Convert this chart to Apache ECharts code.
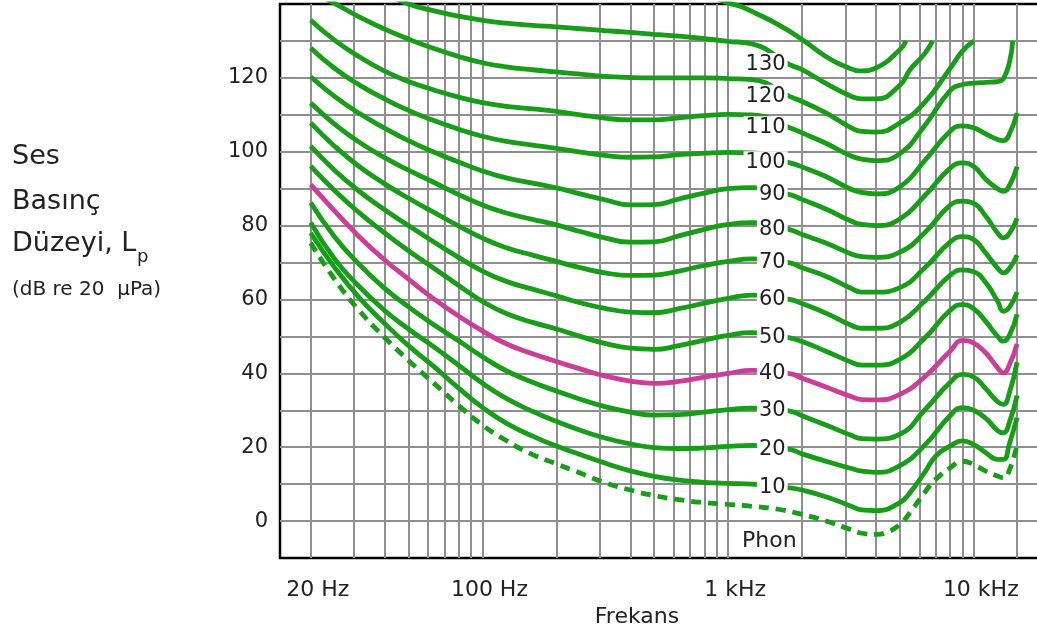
<!DOCTYPE html>
<html>
<head>
<meta charset="utf-8">
<title>Eşit ses yüksekliği eğrileri</title>
<script src="https://cdn.jsdelivr.net/npm/echarts@6/dist/echarts.min.js"></script>
<style>
  html, body { margin: 0; padding: 0; background: #fff; overflow: hidden; }
  #chart { width: 1037px; height: 630px; }
</style>
</head>
<body>
<div id="chart"></div>
<script>
// eksen sınırları
const xMinHz = 15, xMaxHz = 18600;
const yMin = -10, yMax = 140;

// dikey ızgara çizgileri (Hz)
const gridHz = [20, 30, 40, 50, 60, 70, 80, 90, 100, 200, 300, 400, 500, 600, 700, 800, 900,
  1000, 2000, 3000, 4000, 5000, 6000, 7000, 8000, 9000, 10000, 15000];
const xTickHz = [20, 100, 1000, 10000];
const xTickText = ['20 Hz', '100 Hz', '1 kHz', '10 kHz'];
const yTickDb = [0, 20, 40, 60, 80, 100, 120];
// phon etiketinin oturduğu frekans
const labelHz = 1780;

// [frekans Hz, dB] - resimden okunan noktalar
const esik = [[20,75.3],[25,65.5],[31.5,57],[40,49.7],[50,43.5],[63,37.5],[80,31.3],[100,26],[125,21.8],[160,18],[200,15.5],[250,13],[315,10.4],[400,8.4],[500,6.9],[630,5.8],[800,5],[1000,4.5],[1250,4],[1600,3.2],[2000,1.8],[2500,0],[3150,-2.3],[3500,-3.3],[4000,-3.6],[4400,-3.1],[5000,-0.9],[5500,2.3],[6300,7.7],[7000,11.3],[8000,14.4],[9000,16.2],[10000,15.3],[11200,13.5],[12500,12.2],[13200,11.7],[14000,14],[15000,20.7]];
const phon10 = [[20,78],[25,68.7],[31.5,60.5],[40,53.5],[50,47.5],[63,42],[80,36],[100,30.8],[125,26.5],[160,23],[200,20.3],[250,18],[315,15.7],[400,13.6],[500,12.1],[630,11.1],[800,10.5],[1000,10.2],[1250,10],[1780,9],[2000,8.4],[2500,6.6],[3150,4.1],[3500,3],[4000,2.8],[5000,5],[5500,7.7],[6300,13.1],[7000,17.6],[8000,20.3],[9000,21.7],[10000,20.7],[11200,18.5],[12500,16.7],[13200,16.7],[14000,21.2],[15000,28]];
const phon20 = [[20,80.8],[25,71],[31.5,63.5],[40,57],[50,52],[63,47.3],[80,42.2],[100,37.3],[125,33.2],[160,29.7],[200,27],[250,24.6],[315,22.5],[400,20.9],[500,19.9],[630,19.6],[800,19.8],[1000,20.2],[1250,20.5],[1780,19.4],[2000,18.2],[2500,16.2],[3150,14.3],[3500,13.5],[4000,13.2],[5000,15],[6300,20.5],[8000,28.5],[9000,30.7],[10000,30],[11200,27.8],[12500,24.5],[13200,23.9],[14000,27],[15000,34]];
const phon30 = [[20,86.2],[25,77],[31.5,69.5],[40,63],[50,58],[63,53.3],[80,48.8],[100,44.5],[125,40.7],[160,37.6],[200,35.2],[250,33],[315,31],[400,29.5],[500,28.7],[630,28.8],[800,29.5],[1000,30.2],[1250,30.6],[1780,29.8],[2000,28.5],[2500,26],[3150,23.3],[3500,22.3],[4000,22.2],[5000,23.5],[6300,30],[8000,37.5],[9000,39.7],[10000,39],[11200,35.8],[12500,32.3],[13200,31.6],[14000,35],[15000,43]];
const phon40 = [[20,91.1],[25,84],[31.5,77],[40,70.7],[50,65.5],[63,60.3],[80,55.5],[100,51.5],[125,48],[160,45.3],[200,43.2],[250,41.2],[315,39.3],[400,37.9],[500,37.3],[630,37.8],[800,39],[1000,40],[1250,40.8],[1780,39.9],[2000,38.7],[2500,36.3],[3150,33.8],[3500,32.9],[4000,32.8],[5000,34.3],[6300,39],[8000,46],[9000,48.9],[10000,48.2],[11200,45.5],[12500,41.5],[13200,40.1],[14000,42.5],[15000,48]];
const phon50 = [[20,96.1],[25,89.5],[31.5,83.5],[40,78],[50,73.2],[63,68.6],[80,63.8],[100,59.5],[125,56.2],[160,53.8],[200,52],[250,50],[315,48.1],[400,46.8],[500,46.5],[630,47.5],[800,49],[1000,50.3],[1250,51],[1780,49.6],[2000,48.6],[2500,46],[3150,43.1],[3500,42.2],[4000,42.2],[5000,43.8],[6300,49.5],[8000,57],[9000,58.6],[10000,57.5],[11200,54],[12500,50],[13200,48.7],[14000,50.5],[15000,56]];
const phon60 = [[20,101.5],[25,95],[31.5,89.3],[40,84.3],[50,80],[63,75.7],[80,71.4],[100,67.7],[125,64.9],[160,62.8],[200,61],[250,59.1],[315,57.6],[400,56.6],[500,56.4],[630,57.5],[800,59],[1000,60.3],[1250,61.2],[1780,60],[2000,58.9],[2500,56.3],[3150,53.1],[3500,52.2],[4000,52.2],[5000,53.8],[6300,59.5],[8000,66.5],[9000,68],[10000,67.5],[11200,64.5],[12500,59.5],[13200,56.8],[14000,58],[15000,62]];
const phon70 = [[20,107.8],[25,101.5],[31.5,96],[40,91.3],[50,87.4],[63,83.7],[80,79.9],[100,76.6],[125,74],[160,72],[200,70.3],[250,68.6],[315,67.2],[400,66.5],[500,66.6],[630,67.7],[800,69.2],[1000,70.3],[1250,71],[1780,69.9],[2000,68.6],[2500,66.3],[3150,63.1],[3500,62],[4000,62],[5000,63.2],[6300,68.5],[8000,75.5],[9000,77],[10000,76.2],[11200,72.5],[12500,68.5],[13200,67.2],[14000,68.5],[15000,72]];
const phon80 = [[20,113.2],[25,107.5],[31.5,102.6],[40,98.4],[50,95],[63,91.8],[80,88.4],[100,85.6],[125,83.4],[160,81.7],[200,80.2],[250,78.4],[315,76.7],[400,75.5],[500,75.6],[630,77.2],[800,79],[1000,80.3],[1250,80.8],[1780,78.9],[2000,77.6],[2500,75.3],[3150,72.4],[3500,71.6],[4000,71.4],[5000,72.8],[6300,78],[8000,85.5],[9000,86.6],[10000,86],[11200,82.5],[12500,78],[13200,76.7],[14000,78],[15000,82]];
const phon90 = [[20,120.3],[25,115],[31.5,110.4],[40,106.4],[50,103],[63,100],[80,97.2],[100,94.8],[125,92.9],[160,91.5],[200,90.2],[250,88.6],[315,87],[400,85.6],[500,85.7],[630,87.2],[800,88.8],[1000,90],[1250,90.3],[1780,88.4],[2000,87.1],[2500,84.5],[3150,81.3],[3500,80.3],[4000,80],[5000,81.8],[6300,88],[8000,95.5],[9000,97],[10000,96],[11200,92.5],[12500,90],[13200,89.3],[14000,91],[15000,96]];
const phon100 = [[20,128.1],[25,122.6],[31.5,118.1],[40,114.3],[50,111.2],[63,108.5],[80,106.1],[100,104.2],[125,102.8],[160,101.8],[200,100.9],[250,99.9],[315,99],[400,98.5],[500,98.6],[630,99.2],[800,99.6],[1000,99.8],[1250,99.7],[1780,97],[2000,95.9],[2500,93.3],[3150,89.9],[3500,89],[4000,88.6],[5000,90.5],[6300,97.5],[8000,105.5],[9000,107],[10000,106.5],[11200,104.8],[12500,103.3],[13200,103],[14000,105],[15000,110.5]];
const phon110 = [[20,135.6],[25,130.2],[31.5,125.7],[40,121.8],[50,119],[63,116.8],[80,114.8],[100,113.3],[125,112.3],[160,111.6],[200,110.9],[250,110],[315,109.1],[400,108.6],[500,108.6],[630,109.2],[800,109.8],[1000,110.1],[1250,110],[1780,106.5],[2000,105.1],[2500,102.3],[3150,98.9],[3500,98],[4000,97.6],[5000,99.5],[6300,107],[8000,116.5],[9000,118.2],[10000,118.6],[11200,118.8],[12500,119],[13200,119.8],[14000,124.5],[14400,130]];
const phon120 = [[20,143.5],[25,140.2],[31.5,136.5],[40,133.2],[50,130.5],[63,128],[80,125.8],[100,124.1],[125,123],[160,122.2],[200,121.6],[250,121],[315,120.4],[400,120.1],[500,120],[630,120],[800,120],[1000,119.8],[1250,119.5],[1780,115],[2000,113.6],[2500,110.5],[3150,106.6],[3500,105.5],[4000,105.3],[5000,107.8],[6300,113.3],[8000,122.5],[9000,127.3],[10000,130]];
const phon130 = [[40,143],[50,140],[63,138.2],[80,136.7],[100,135.6],[125,134.8],[160,134.2],[200,133.8],[250,133.3],[315,132.8],[400,132.3],[500,131.8],[630,131.3],[800,130.6],[1000,129.9],[1250,129.2],[1780,123.6],[2000,122.2],[2500,118.5],[3150,115.1],[3500,114.3],[4000,114.3],[5000,118],[5500,122.2],[6300,126.5],[6800,130]];
const phon140 = [[800,143],[1000,140.3],[1120,139.4],[1250,138],[1600,134.4],[2000,130.4],[2500,125.8],[3150,122.5],[3500,121.9],[4000,122.7],[5000,127.6],[5300,130]];

const green = '#179d17';
const pink = '#cc3d99';

const curves = [
  { data: esik, label: null, color: green, dashed: true },
  { data: phon10, label: '10', color: green },
  { data: phon20, label: '20', color: green },
  { data: phon30, label: '30', color: green },
  { data: phon40, label: '40', color: pink },
  { data: phon50, label: '50', color: green },
  { data: phon60, label: '60', color: green },
  { data: phon70, label: '70', color: green },
  { data: phon80, label: '80', color: green },
  { data: phon90, label: '90', color: green },
  { data: phon100, label: '100', color: green },
  { data: phon110, label: '110', color: green },
  { data: phon120, label: '120', color: green },
  { data: phon130, label: '130', color: green },
  { data: phon140, label: null, color: green }
];

const lg = Math.log10;
const font = 'DejaVu Sans';

const series = curves.map(c => ({
  type: 'line',
  data: c.data.map(([f, db]) => {
    const item = { value: [lg(f), db] };
    if (c.label && f === labelHz) {
      item.label = { show: true, formatter: c.label };
    }
    return item;
  }),
  smooth: 0.5,
  symbol: 'circle',
  symbolSize: 0,
  showSymbol: true,
  clip: true,
  silent: true,
  lineStyle: { color: c.color, width: 4.8, type: c.dashed ? [10, 7] : 'solid' },
  itemStyle: { color: c.color },
  label: {
    show: false,
    position: 'left',
    distance: 2,
    color: '#222',
    fontSize: 21,
    fontFamily: font,
    backgroundColor: '#fff',
    padding: [1, 2, 1, 2]
  }
}));

const chart = echarts.init(document.getElementById('chart'));
chart.setOption({
  animation: false,
  backgroundColor: '#fff',
  grid: {
    left: 280, width: 760, top: 4, height: 554,
    outerBoundsMode: 'none',
    show: true, borderColor: '#000', borderWidth: 2.5
  },
  xAxis: {
    type: 'value',
    min: lg(xMinHz),
    max: lg(xMaxHz),
    axisLine: { show: false },
    axisTick: { show: false, customValues: gridHz.map(lg) },
    splitLine: { show: true, lineStyle: { color: '#8f8f8f', width: 2 } },
    axisLabel: {
      customValues: xTickHz.map(lg),
      margin: 21,
      padding: [0, 0, 0, 14],
      color: '#222',
      fontSize: 22,
      fontFamily: font,
      formatter: v => {
        const hz = Math.pow(10, v);
        let best = 0;
        xTickHz.forEach((t, i) => { if (Math.abs(t - hz) < Math.abs(xTickHz[best] - hz)) best = i; });
        return xTickText[best];
      }
    },
    name: 'Frekans',
    nameLocation: 'middle',
    nameGap: 48,
    nameTextStyle: { color: '#222', fontSize: 22, fontFamily: font, padding: [0, 46, 0, 0] }
  },
  yAxis: {
    type: 'value',
    min: yMin,
    max: yMax,
    interval: 10,
    axisLine: { show: false },
    axisTick: { show: false },
    splitLine: { show: true, showMinLine: false, showMaxLine: false, lineStyle: { color: '#8f8f8f', width: 2 } },
    axisLabel: {
      margin: 12,
      color: '#222',
      fontSize: 21,
      fontFamily: font,
      formatter: v => (yTickDb.indexOf(v) >= 0 ? String(v) : '')
    }
  },
  graphic: [
    { type: 'text', x: 12, y: 157, style: { text: 'Ses', fontSize: 27, fontFamily: font, fill: '#222', verticalAlign: 'middle' } },
    { type: 'text', x: 12, y: 202, style: { text: 'Basınç', fontSize: 27, fontFamily: font, fill: '#222', verticalAlign: 'middle' } },
    { type: 'text', x: 12, y: 244, style: { text: 'Düzeyi, L', fontSize: 27, fontFamily: font, fill: '#222', verticalAlign: 'middle' } },
    { type: 'text', x: 137, y: 257, style: { text: 'p', fontSize: 18, fontFamily: font, fill: '#222', verticalAlign: 'middle' } },
    { type: 'text', x: 12, y: 290, style: { text: '(dB re 20  µPa)', fontSize: 20, fontFamily: font, fill: '#222', verticalAlign: 'middle' } },
    { type: 'text', x: 742, y: 541, style: { text: 'Phon', fontSize: 22, fontFamily: font, fill: '#222', verticalAlign: 'middle' } }
  ],
  series: series
});
</script>
</body>
</html>
